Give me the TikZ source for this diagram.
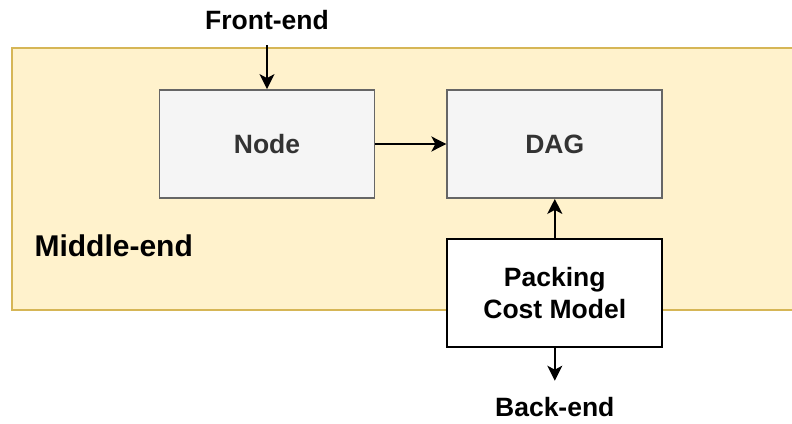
\documentclass[tikz,border=0pt]{standalone}
\usepackage{fontspec}
\setmainfont{Liberation Sans}
\usetikzlibrary{arrows.meta,positioning}
\definecolor{midfill}{HTML}{FFF2CC}
\definecolor{midline}{HTML}{D6B656}
\definecolor{boxfill}{HTML}{F5F5F5}
\definecolor{boxline}{HTML}{666666}
\definecolor{boxtext}{HTML}{333333}

\begin{document}
\begin{tikzpicture}[
  x=1pt, y=-1pt,
  node distance=71pt,
  lbl/.style={font=\fontsize{26.5}{32}\selectfont\bfseries},
  st/.style={draw=boxline, fill=boxfill, text=boxtext, line width=1.8pt,
             minimum width=215pt, minimum height=108pt, lbl},
  pk/.style={st, draw=black, fill=white, text=black, align=center},
  arr/.style={-{Stealth[length=15pt,width=15pt,inset=4pt]}, line width=2pt}
]
\clip (0,0) rectangle (792,423);
\node[draw=midline, fill=midfill, line width=1.6pt, minimum width=800pt,
      minimum height=262pt, anchor=north west, inner sep=0pt] (middle) at (11,47) {};
\node[anchor=west, font=\fontsize{30}{36}\selectfont\bfseries] (midlbl) at (31,246) {Middle-end};
\node[st] (node) at (267,144) {Node};
\node[st, right=of node] (dag) {DAG};
\node[pk, below=39pt of dag] (pack) {Packing\\Cost Model};
\node[lbl, above=56pt of node] (front) {Front-end};
\node[lbl, below=46pt of pack] (back) {Back-end};
\draw[arr, shorten <=12pt] (front) -- (node);
\draw[arr] (node) -- (dag);
\draw[arr] (pack) -- (dag);
\draw[arr, shorten >=13pt] (pack) -- (back);
\end{tikzpicture}
\end{document}
